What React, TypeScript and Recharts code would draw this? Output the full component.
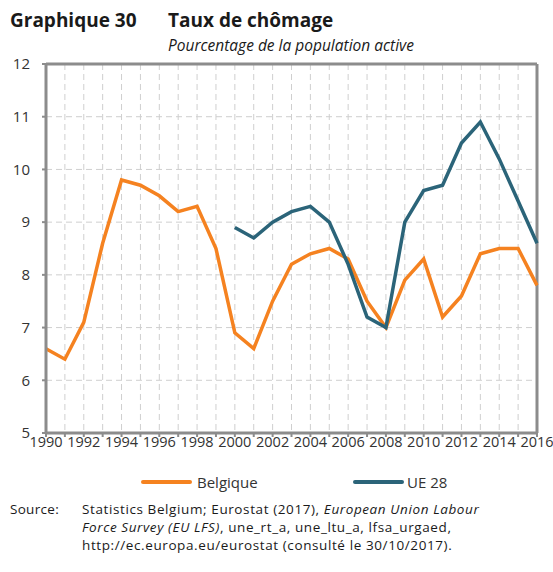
import React from 'react';
import { LineChart, Line, XAxis, YAxis, CartesianGrid, Legend, ReferenceLine } from 'recharts';

const years = [1990,1991,1992,1993,1994,1995,1996,1997,1998,1999,2000,2001,2002,2003,2004,2005,2006,2007,2008,2009,2010,2011,2012,2013,2014,2015,2016];
const belgique = [6.6,6.4,7.1,8.6,9.8,9.7,9.5,9.2,9.3,8.5,6.9,6.6,7.5,8.2,8.4,8.5,8.3,7.5,7.0,7.9,8.3,7.2,7.6,8.4,8.5,8.5,7.8];
const ue28 = [null,null,null,null,null,null,null,null,null,null,8.9,8.7,9.0,9.2,9.3,9.0,8.2,7.2,7.0,9.0,9.6,9.7,10.5,10.9,10.2,9.4,8.6];
const yTicks = [5,6,7,8,9,10,11,12];
const seriesNames = ['Belgique', 'UE 28'];
const colors = ['#F58220', '#2B6479'];

const data = years.map((y, i) => ({ year: y, be: belgique[i], ue: ue28[i] }));

const FONT = '"Open Sans", sans-serif';
const AXIS = '#8C8C8C';

const LegendContent = (props: any) => {
  const lefts = [141, 353];
  return (
    <div style={{ position: 'relative', width: 553, height: 20, fontFamily: FONT }}>
      {(props.payload || []).map((p: any, i: number) => (
        <div key={i} style={{ position: 'absolute', left: lefts[i], top: 0, display: 'flex', alignItems: 'center', height: 20 }}>
          <div style={{ width: 51, height: 4, background: p.color, borderRadius: 2 }} />
          <span style={{ marginLeft: i === 0 ? 5 : 3, fontSize: 15, color: '#333' }}>{p.value}</span>
        </div>
      ))}
    </div>
  );
};

const srcStyle: React.CSSProperties = { position: 'absolute', left: 82, fontSize: 13.5, letterSpacing: 0.6, lineHeight: '18px', color: '#1a1a1a', whiteSpace: 'nowrap' };

export default function App() {
  return (
    <div style={{ position: 'absolute', left: 0, top: 0, width: 553, height: 572, background: '#fff', fontFamily: FONT }}>
      <div style={{ position: 'absolute', left: 10, top: 7, fontSize: 19, fontWeight: 700, color: '#1a1a1a', whiteSpace: 'nowrap' }}>Graphique 30</div>
      <div style={{ position: 'absolute', left: 168, top: 7, fontSize: 19, fontWeight: 700, color: '#1a1a1a', whiteSpace: 'nowrap' }}>Taux de chômage</div>
      <div style={{ position: 'absolute', left: 168, top: 34, fontSize: 15.5, fontStyle: 'italic', color: '#1a1a1a', whiteSpace: 'nowrap' }}>Pourcentage de la population active</div>
      <LineChart width={553} height={572} data={data} margin={{ top: 64, right: 16, bottom: 89, left: 6 }} style={{ position: 'absolute', left: 0, top: 0 }}>
        <CartesianGrid stroke="#CFCFCF" strokeDasharray="6 4" strokeWidth={1} verticalValues={years} horizontalValues={yTicks} />
        <XAxis dataKey="year" type="number" domain={[1990, 2016]} ticks={years} interval={0}
          tickFormatter={(v: number) => (v % 2 === 0 ? String(v) : '')}
          stroke={AXIS} strokeWidth={3} tickSize={4} tickMargin={0} height={30}
          tick={{ fill: '#333', fontSize: 14.5, fontFamily: FONT }} tickLine={{ stroke: AXIS, strokeWidth: 2 }} />
        <YAxis type="number" domain={[5, 12]} ticks={yTicks} interval={0} width={40}
          stroke={AXIS} strokeWidth={3} tickSize={4} tickMargin={12}
          tick={{ fill: '#333', fontSize: 15, fontFamily: FONT }} tickLine={{ stroke: AXIS, strokeWidth: 2 }} />
        <ReferenceLine y={12} stroke={AXIS} strokeWidth={3} />
        <ReferenceLine x={2016} stroke={AXIS} strokeWidth={3} />
        <Line dataKey="be" name={seriesNames[0]} stroke={colors[0]} strokeWidth={3.5} dot={false} isAnimationActive={false} connectNulls={false} strokeLinejoin="miter" />
        <Line dataKey="ue" name={seriesNames[1]} stroke={colors[1]} strokeWidth={3.5} dot={false} isAnimationActive={false} connectNulls={false} strokeLinejoin="miter" />
        <Legend content={LegendContent} wrapperStyle={{ position: 'absolute', left: 0, top: 472, width: 553, height: 20 }} />
      </LineChart>
      <div style={{ ...srcStyle, left: 10, top: 500, letterSpacing: 0.3 }}>Source:</div>
      <div style={{ ...srcStyle, top: 500 }}>Statistics Belgium; Eurostat (2017), <i>European Union Labour</i></div>
      <div style={{ ...srcStyle, top: 518 }}><i>Force Survey (EU LFS)</i>, une_rt_a, une_ltu_a, lfsa_urgaed,</div>
      <div style={{ ...srcStyle, top: 536 }}>http://ec.europa.eu/eurostat (consulté le 30/10/2017).</div>
    </div>
  );
}
